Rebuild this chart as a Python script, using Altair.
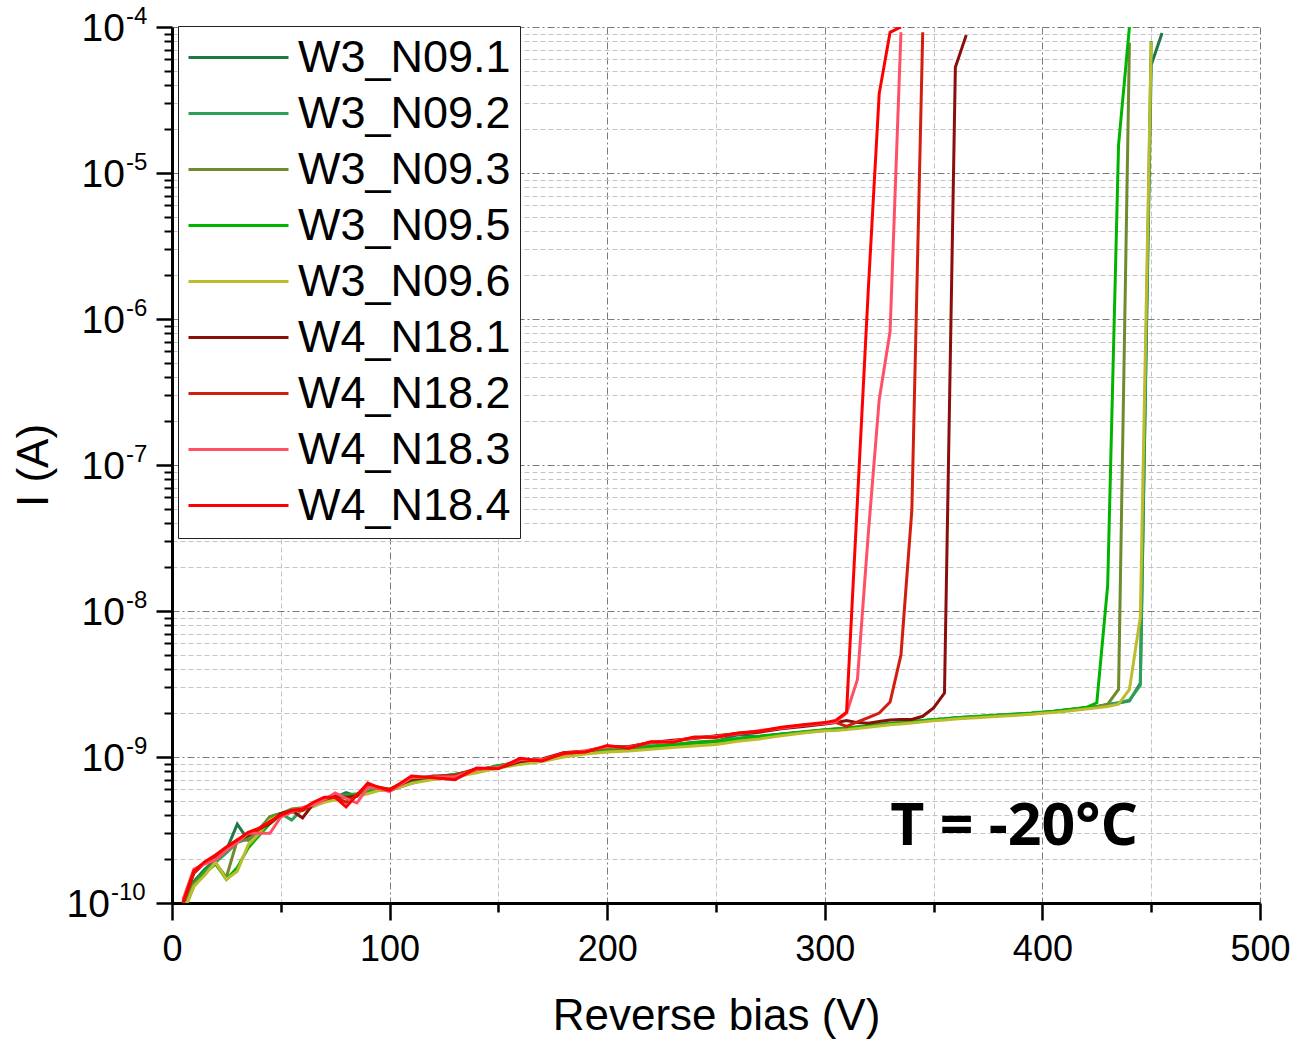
import altair as alt
import pandas as pd

# Reverse bias grid (V)
voltage = [5, 10, 15, 20, 25, 30, 35, 40, 45, 50, 55, 60, 65, 70, 75, 80, 85, 90, 95, 100,
           110, 120, 130, 140, 150, 160, 170, 180, 190, 200, 210, 220, 230, 240, 250, 260, 270, 280, 290, 300,
           305, 310, 315, 320, 325, 330, 335, 340, 345, 350, 355, 360, 365, 370, 375, 380, 385, 390, 395, 400,
           405, 410, 415, 420, 425, 430, 435, 440, 445, 450, 455]

# Currents (A)
W3_N09_1 = [0.95e-10, 1.40e-10, 1.70e-10, 1.97e-10, 2.30e-10, 3.47e-10, 2.70e-10, 3.10e-10, 3.90e-10, 4.10e-10,
            4.20e-10, 4.40e-10, 4.80e-10, 5.10e-10, 5.30e-10, 5.70e-10, 5.40e-10, 5.80e-10, 6.20e-10, 5.90e-10,
            6.60e-10, 7.20e-10, 7.60e-10, 8.00e-10, 8.70e-10, 9.20e-10, 9.50e-10, 1.03e-9, 1.08e-9, 1.12e-9,
            1.15e-9, 1.18e-9, 1.21e-9, 1.25e-9, 1.28e-9, 1.42e-9, 1.38e-9, 1.43e-9, 1.48e-9, 1.53e-9,
            1.55e-9, 1.57e-9, 1.60e-9, 1.63e-9, 1.66e-9, 1.69e-9, 1.71e-9, 1.74e-9, 1.77e-9, 1.80e-9,
            1.82e-9, 1.85e-9, 1.87e-9, 1.89e-9, 1.91e-9, 1.93e-9, 1.95e-9, 1.97e-9, 1.99e-9, 2.02e-9,
            2.05e-9, 2.09e-9, 2.13e-9, 2.17e-9, 2.21e-9, 2.28e-9, 2.34e-9, 2.42e-9, 3.20e-9, 5.5e-5, 9.1e-5]
W3_N09_2 = [0.95e-10, 1.35e-10, 1.65e-10, 1.90e-10, 2.20e-10, 2.60e-10, 2.75e-10, 3.20e-10, 3.90e-10, 4.10e-10,
            3.70e-10, 4.40e-10, 4.80e-10, 5.20e-10, 5.40e-10, 5.50e-10, 5.60e-10, 5.80e-10, 6.20e-10, 6.00e-10,
            6.90e-10, 7.30e-10, 7.60e-10, 8.10e-10, 8.70e-10, 9.30e-10, 9.60e-10, 1.04e-9, 1.08e-9, 1.13e-9,
            1.15e-9, 1.19e-9, 1.22e-9, 1.26e-9, 1.29e-9, 1.34e-9, 1.39e-9, 1.44e-9, 1.49e-9, 1.54e-9,
            1.56e-9, 1.58e-9, 1.61e-9, 1.64e-9, 1.67e-9, 1.70e-9, 1.72e-9, 1.75e-9, 1.78e-9, 1.81e-9,
            1.83e-9, 1.86e-9, 1.88e-9, 1.90e-9, 1.92e-9, 1.94e-9, 1.96e-9, 1.98e-9, 2.00e-9, 2.03e-9,
            2.06e-9, 2.10e-9, 2.14e-9, 2.18e-9, 2.22e-9, 2.29e-9, 2.35e-9, 2.45e-9, 3.10e-9, 8.0e-5]
W3_N09_3 = [0.90e-10, 1.35e-10, 1.60e-10, 1.88e-10, 1.50e-10, 2.70e-10, 2.70e-10, 3.10e-10, 3.90e-10, 4.10e-10,
            4.40e-10, 4.50e-10, 4.70e-10, 5.00e-10, 5.30e-10, 5.40e-10, 5.50e-10, 5.70e-10, 6.10e-10, 6.00e-10,
            6.80e-10, 7.20e-10, 7.50e-10, 8.00e-10, 8.60e-10, 9.10e-10, 9.50e-10, 1.02e-9, 1.07e-9, 1.11e-9,
            1.14e-9, 1.17e-9, 1.20e-9, 1.24e-9, 1.27e-9, 1.32e-9, 1.37e-9, 1.42e-9, 1.47e-9, 1.52e-9,
            1.54e-9, 1.56e-9, 1.59e-9, 1.62e-9, 1.65e-9, 1.68e-9, 1.70e-9, 1.73e-9, 1.76e-9, 1.79e-9,
            1.81e-9, 1.84e-9, 1.86e-9, 1.88e-9, 1.90e-9, 1.92e-9, 1.94e-9, 1.96e-9, 1.98e-9, 2.01e-9,
            2.04e-9, 2.08e-9, 2.12e-9, 2.16e-9, 2.20e-9, 2.30e-9, 2.90e-9, 7.8e-5]
W3_N09_5 = [0.85e-10, 1.30e-10, 1.60e-10, 1.85e-10, 1.45e-10, 1.75e-10, 2.38e-10, 2.90e-10, 3.50e-10, 4.00e-10,
            4.20e-10, 4.40e-10, 4.60e-10, 5.00e-10, 5.20e-10, 5.40e-10, 5.50e-10, 5.70e-10, 6.00e-10, 5.90e-10,
            6.80e-10, 7.30e-10, 7.60e-10, 8.10e-10, 8.70e-10, 9.20e-10, 9.50e-10, 1.03e-9, 1.08e-9, 1.12e-9,
            1.15e-9, 1.18e-9, 1.21e-9, 1.25e-9, 1.28e-9, 1.33e-9, 1.38e-9, 1.43e-9, 1.48e-9, 1.53e-9,
            1.55e-9, 1.57e-9, 1.60e-9, 1.63e-9, 1.66e-9, 1.69e-9, 1.71e-9, 1.74e-9, 1.77e-9, 1.80e-9,
            1.82e-9, 1.85e-9, 1.87e-9, 1.89e-9, 1.91e-9, 1.93e-9, 1.95e-9, 1.97e-9, 1.99e-9, 2.02e-9,
            2.05e-9, 2.09e-9, 2.13e-9, 2.18e-9, 2.35e-9, 1.5e-8, 1.56e-5, 1.0e-4]
W3_N09_6 = [0.85e-10, 1.30e-10, 1.55e-10, 1.90e-10, 1.45e-10, 1.65e-10, 2.50e-10, 3.00e-10, 3.70e-10, 4.00e-10,
            4.20e-10, 4.30e-10, 4.60e-10, 4.90e-10, 5.10e-10, 5.30e-10, 5.40e-10, 5.60e-10, 5.90e-10, 5.90e-10,
            6.60e-10, 7.00e-10, 7.30e-10, 7.80e-10, 8.40e-10, 8.90e-10, 9.30e-10, 1.00e-9, 1.05e-9, 1.08e-9,
            1.10e-9, 1.13e-9, 1.16e-9, 1.19e-9, 1.22e-9, 1.28e-9, 1.33e-9, 1.40e-9, 1.46e-9, 1.51e-9,
            1.52e-9, 1.54e-9, 1.57e-9, 1.60e-9, 1.63e-9, 1.66e-9, 1.68e-9, 1.71e-9, 1.74e-9, 1.77e-9,
            1.79e-9, 1.82e-9, 1.84e-9, 1.86e-9, 1.88e-9, 1.90e-9, 1.92e-9, 1.94e-9, 1.96e-9, 1.99e-9,
            2.02e-9, 2.05e-9, 2.09e-9, 2.13e-9, 2.17e-9, 2.22e-9, 2.30e-9, 2.90e-9, 9.1e-9, 7.9e-5]
W4_N18_1 = [1.00e-10, 1.60e-10, 1.90e-10, 2.10e-10, 2.40e-10, 2.70e-10, 2.90e-10, 3.20e-10, 3.50e-10, 4.10e-10,
            4.30e-10, 3.82e-10, 4.80e-10, 5.10e-10, 5.40e-10, 5.30e-10, 5.40e-10, 6.60e-10, 6.10e-10, 6.00e-10,
            7.00e-10, 7.40e-10, 7.40e-10, 8.30e-10, 8.40e-10, 9.30e-10, 9.70e-10, 1.07e-9, 1.09e-9, 1.17e-9,
            1.18e-9, 1.25e-9, 1.30e-9, 1.34e-9, 1.40e-9, 1.45e-9, 1.48e-9, 1.56e-9, 1.62e-9, 1.68e-9,
            1.72e-9, 1.78e-9, 1.72e-9, 1.70e-9, 1.75e-9, 1.79e-9, 1.81e-9, 1.81e-9, 1.90e-9, 2.17e-9,
            2.74e-9, 5.3e-5, 8.8e-5]
W4_N18_2 = [1.00e-10, 1.60e-10, 1.88e-10, 2.10e-10, 2.35e-10, 2.65e-10, 3.00e-10, 3.20e-10, 3.60e-10, 4.00e-10,
            4.30e-10, 4.30e-10, 4.80e-10, 5.20e-10, 5.30e-10, 4.90e-10, 5.50e-10, 6.40e-10, 6.20e-10, 6.00e-10,
            7.20e-10, 7.30e-10, 7.50e-10, 8.30e-10, 8.40e-10, 9.50e-10, 9.50e-10, 1.07e-9, 1.10e-9, 1.18e-9,
            1.17e-9, 1.26e-9, 1.28e-9, 1.36e-9, 1.38e-9, 1.45e-9, 1.50e-9, 1.58e-9, 1.64e-9, 1.70e-9,
            1.73e-9, 1.62e-9, 1.74e-9, 1.86e-9, 2.00e-9, 2.38e-9, 5.0e-9, 4.9e-8, 9.2e-5]
W4_N18_3 = [1.05e-10, 1.70e-10, 1.85e-10, 1.97e-10, 2.30e-10, 2.60e-10, 3.00e-10, 3.00e-10, 3.00e-10, 3.88e-10,
            4.20e-10, 4.50e-10, 4.70e-10, 5.10e-10, 5.67e-10, 5.20e-10, 4.84e-10, 6.20e-10, 6.10e-10, 5.80e-10,
            7.20e-10, 7.30e-10, 7.30e-10, 8.20e-10, 8.50e-10, 9.60e-10, 9.60e-10, 1.05e-9, 1.10e-9, 1.17e-9,
            1.16e-9, 1.25e-9, 1.28e-9, 1.35e-9, 1.38e-9, 1.44e-9, 1.52e-9, 1.58e-9, 1.65e-9, 1.70e-9,
            1.74e-9, 2.00e-9, 3.40e-9, 3.4e-8, 2.8e-7, 8.2e-7, 9.2e-5]
W4_N18_4 = [1.00e-10, 1.65e-10, 1.91e-10, 2.13e-10, 2.42e-10, 2.70e-10, 3.05e-10, 3.26e-10, 3.58e-10, 4.00e-10,
            4.30e-10, 4.40e-10, 4.90e-10, 5.30e-10, 5.30e-10, 4.55e-10, 5.50e-10, 6.60e-10, 6.20e-10, 5.90e-10,
            7.40e-10, 7.20e-10, 7.00e-10, 8.40e-10, 8.30e-10, 9.80e-10, 9.40e-10, 1.06e-9, 1.08e-9, 1.20e-9,
            1.15e-9, 1.27e-9, 1.26e-9, 1.37e-9, 1.36e-9, 1.46e-9, 1.50e-9, 1.60e-9, 1.66e-9, 1.72e-9,
            1.78e-9, 2.03e-9, 5.7e-8, 1.6e-6, 3.5e-5, 9.2e-5, 1.0e-4]

series_names = ["W3_N09.1", "W3_N09.2", "W3_N09.3", "W3_N09.5", "W3_N09.6",
                "W4_N18.1", "W4_N18.2", "W4_N18.3", "W4_N18.4"]
series_values = [W3_N09_1, W3_N09_2, W3_N09_3, W3_N09_5, W3_N09_6,
                 W4_N18_1, W4_N18_2, W4_N18_3, W4_N18_4]
series_colors = ["#1f7845", "#2ca05a", "#6e8b2e", "#00b400", "#bcbc2c",
                 "#8b0e0a", "#d21e0e", "#ff5068", "#ff0000"]

x_major = [0, 100, 200, 300, 400, 500]
x_minor = [50, 150, 250, 350, 450]
y_major = [1e-10, 1e-9, 1e-8, 1e-7, 1e-6, 1e-5, 1e-4]
y_minor = [m * 10.0 ** e for e in range(-10, -4) for m in range(2, 10)]
y_label_base = ["10", "10", "10", "10", "10", "10", "10"]
y_label_exp = ["-10", "-9", "-8", "-7", "-6", "-5", "-4"]
annotation_text = ["T = -20°C"]

rows = []
for name, vals in zip(series_names, series_values):
    for v, i in zip(voltage, vals):
        rows.append({"series": name, "V": v, "I": i})
df = pd.DataFrame(rows)
ylab = pd.DataFrame({"I": y_major, "base": y_label_base, "exp": y_label_exp})

FONT = "Liberation Sans"
x_scale = alt.Scale(domain=[0, 500], nice=False, zero=False)
y_scale = alt.Scale(type="log", domain=[1e-10, 1e-4], nice=False)

x_axis_major = alt.Axis(values=x_major, orient="bottom", grid=True, gridColor="#7a7a7a",
                        gridDash=[7, 3, 2, 3], gridWidth=1, tickSize=17, tickWidth=2.5,
                        tickColor="black", domainColor="black", domainWidth=3,
                        labelFontSize=36, labelFont=FONT, labelColor="black", labelPadding=12,
                        labelFlush=False, labelOverlap=False, format="d",
                        title="Reverse bias (V)", titleFont=FONT, titleFontSize=44,
                        titleFontWeight="normal", titleColor="black", titlePadding=27)
x_axis_minor = alt.Axis(values=x_minor, orient="bottom", grid=True, gridColor="#c4c4c4",
                        gridDash=[5, 3], gridWidth=1, tickSize=9, tickWidth=2.5,
                        tickColor="black", domain=False, labels=False, title=None)
y_axis_major = alt.Axis(values=y_major, orient="left", grid=True, gridColor="#7a7a7a",
                        gridDash=[7, 3, 2, 3], gridWidth=1, tickSize=16, tickWidth=2.5,
                        tickColor="black", domainColor="black", domainWidth=3,
                        labels=False,
                        title="I (A)", titleFont=FONT, titleFontSize=44,
                        titleFontWeight="normal", titleColor="black", titlePadding=98)
y_axis_minor = alt.Axis(values=y_minor, orient="left", grid=True, gridColor="#c4c4c4",
                        gridDash=[5, 3], gridWidth=1, tickSize=8, tickWidth=2,
                        tickColor="black", domain=False, labels=False, title=None)

minor = alt.Chart(df).mark_point(opacity=0, size=1).encode(
    x=alt.X("V:Q", scale=x_scale, axis=x_axis_minor),
    y=alt.Y("I:Q", scale=y_scale, axis=y_axis_minor),
)

lines = alt.Chart(df).mark_line(strokeWidth=3, clip=True).encode(
    x=alt.X("V:Q", scale=x_scale, axis=x_axis_major),
    y=alt.Y("I:Q", scale=y_scale, axis=y_axis_major),
    color=alt.Color(
        "series:N",
        scale=alt.Scale(domain=series_names, range=series_colors),
        legend=alt.Legend(
            title=None, orient="none", legendX=6, legendY=-1,
            symbolType="stroke", symbolSize=10000, symbolStrokeWidth=3,
            clipHeight=45, rowPadding=10, padding=9,
            labelFontSize=45, labelFont=FONT, labelColor="black", labelOffset=8, labelLimit=500,
            strokeColor="#222222", fillColor="white",
        ),
    ),
)

# y tick labels: "10" with a raised exponent
def ylabel_layer(filter_expr, base_dx, exp_dx):
    src = alt.Chart(ylab).transform_filter(filter_expr)
    b = src.mark_text(align="right", baseline="middle", fontSize=39, font=FONT,
                      color="black", dx=base_dx, dy=2).encode(
        x=alt.XDatum(0, axis=None),
        y=alt.Y("I:Q", scale=y_scale, axis=None),
        text="base:N",
    )
    e = src.mark_text(align="left", baseline="middle", fontSize=24, font=FONT,
                      color="black", dx=exp_dx, dy=-10).encode(
        x=alt.XDatum(0, axis=None),
        y=alt.Y("I:Q", scale=y_scale, axis=None),
        text="exp:N",
    )
    return [b, e]

ylabels = (ylabel_layer("datum.exp != '-10'", -47, -46)
           + ylabel_layer("datum.exp == '-10'", -62, -61))

label = alt.Chart(pd.DataFrame({"label": annotation_text})).mark_text(
    font="Open Sans", fontWeight="bold", fontSize=59, align="center", baseline="alphabetic", color="black"
).encode(
    x=alt.XDatum(387, axis=None),
    y=alt.YDatum(2.49e-10, axis=None),
    text="label:N",
)

chart = alt.layer(minor, lines, label, *ylabels).resolve_axis(
    x="independent", y="independent"
).properties(
    width=1088, height=876,
    autosize=alt.AutoSizeParams(type="none"),
    padding={"left": 172, "top": 27, "right": 36, "bottom": 137},
    background="white",
).configure_view(stroke=None)

chart.save("out.html", embed_options={"renderer": "svg", "actions": False})
